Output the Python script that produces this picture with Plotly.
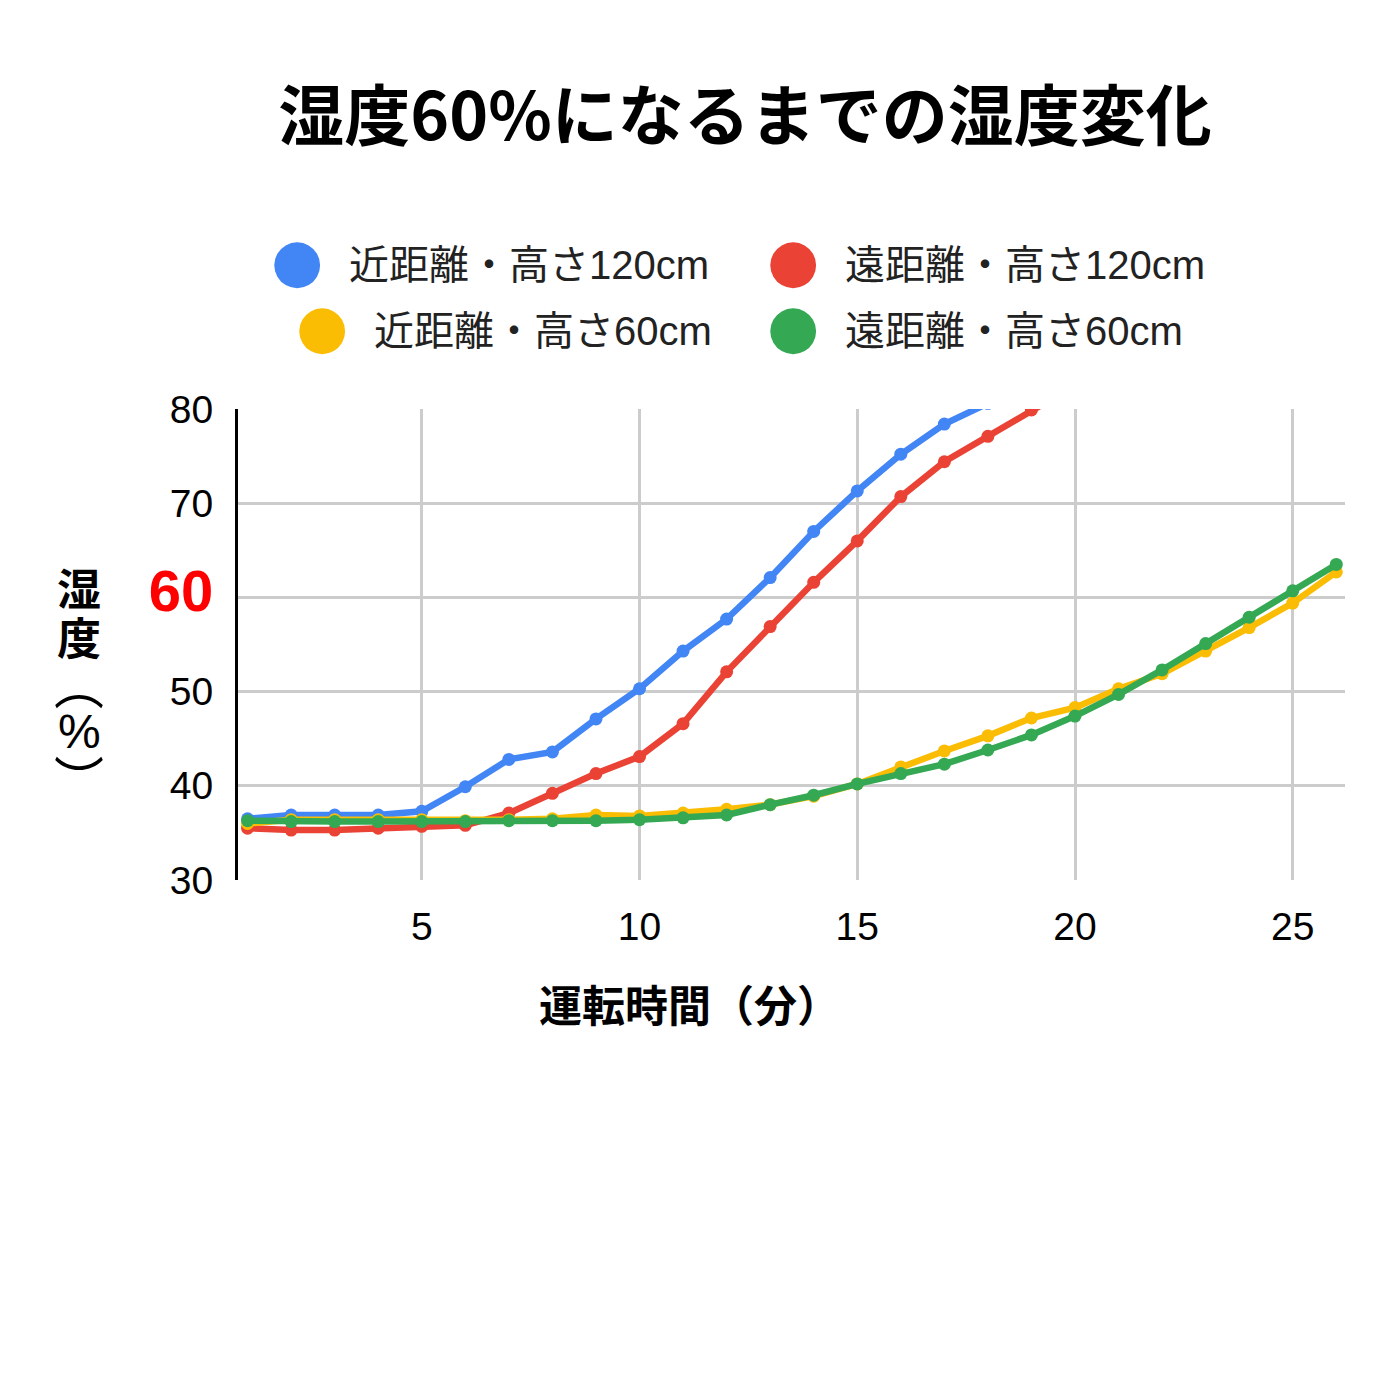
import plotly.graph_objects as go

# 運転時間（分）
minutes = list(range(1, 27))

near_120 = [36.5, 36.9, 36.9, 36.9, 37.3, 39.9, 42.8, 43.6, 47.1, 50.3, 54.3, 57.7,
            62.1, 67.0, 71.3, 75.2, 78.4, 80.6]
far_120 = [35.5, 35.3, 35.3, 35.5, 35.7, 35.8, 37.1, 39.2, 41.3, 43.1, 46.6, 52.1,
           56.9, 61.6, 66.0, 70.7, 74.4, 77.1, 79.9, 82.5]
near_60 = [36.0, 36.4, 36.4, 36.4, 36.4, 36.3, 36.4, 36.5, 36.9, 36.8, 37.1, 37.5,
           38.0, 38.9, 40.2, 42.0, 43.7, 45.3, 47.2, 48.3, 50.3, 51.9, 54.3, 56.8,
           59.4, 62.7]
far_60 = [36.3, 36.2, 36.2, 36.2, 36.2, 36.2, 36.3, 36.3, 36.3, 36.4, 36.6, 36.9,
          38.0, 39.0, 40.2, 41.3, 42.3, 43.8, 45.4, 47.4, 49.7, 52.3, 55.1, 57.9,
          60.7, 63.5]

names = ["近距離・高さ120cm", "遠距離・高さ120cm", "近距離・高さ60cm", "遠距離・高さ60cm"]
colors = ["#4285F4", "#EA4335", "#FBBC04", "#34A853"]
series = [near_120, far_120, near_60, far_60]

y_ticks = [30, 40, 50, 60, 70, 80]
x_ticks = [5, 10, 15, 20, 25]

FONT = "Liberation Sans, Arial, Noto Sans CJK JP"
CJK = "Noto Sans CJK JP, Liberation Sans"

# the page has an 8px body margin, so the layout is set up for that
L, R, T, B = 230, 63, 401, 528
PW, PH = 1400 - L - R, 1400 - T - B


def px(x):
    return (x - 8 - L) / PW


def py(y):
    return (1400 - B - (y - 8)) / PH


fig = go.Figure()
for name, color, vals in zip(names, colors, series):
    fig.add_trace(go.Scatter(
        x=minutes[:len(vals)], y=vals, name=name, mode="lines+markers",
        line=dict(color=color, width=6.5), marker=dict(color=color, size=13),
        showlegend=False,
    ))

# legend drawn as annotations (big round markers, 2 columns)
legend_pos = [(297, 265), (793, 265), (322, 331), (793, 331)]
for (lx, ly), name, color in zip(legend_pos, names, colors):
    fig.add_annotation(
        xref="paper", yref="paper", x=px(lx), y=py(ly - 5),
        xanchor="center", yanchor="middle", showarrow=False,
        text="●", font=dict(size=60, family="DejaVu Sans", color=color),
    )
    fig.add_annotation(
        xref="paper", yref="paper", x=px(lx + 50), y=py(ly),
        xanchor="left", yanchor="middle", showarrow=False,
        text=name, font=dict(size=40, family=FONT, color="#222222"),
    )

ticktext = [str(v) if v != 60 else "<b><span style='color:#FF0000;font-size:58px'>60</span></b>"
            for v in y_ticks]

# y axis title, one glyph per line (tight vertical spacing)
for ch, cy, size, bold in [("湿", 587, 44, True), ("度", 636, 44, True),
                           ("︵", 682, 50, False), ("%", 731, 48, False),
                           ("︶", 777, 50, False)]:
    fig.add_annotation(
        xref="paper", yref="paper", x=px(79), y=py(cy),
        xanchor="center", yanchor="middle", showarrow=False,
        text=f"<b>{ch}</b>" if bold else ch,
        font=dict(size=size, family=CJK if ch != "%" else FONT, color="#000000"),
    )

# x axis title
fig.add_annotation(
    xref="paper", yref="paper", x=px(689), y=py(1003),
    xanchor="center", yanchor="middle", showarrow=False,
    text="<b>運転時間（分）</b>",
    font=dict(size=43, family=CJK, color="#000000"),
)

fig.update_layout(
    width=1400, height=1400,
    paper_bgcolor="white", plot_bgcolor="white",
    margin=dict(l=L, r=R, t=T, b=B),
    title=dict(text="<b>湿度60%になるまでの湿度変化</b>", x=(745 - 8) / 1400, xanchor="center",
               y=1 - (117 - 8) / 1400, yanchor="middle",
               font=dict(size=66, family=CJK, color="#000000")),
    font=dict(family=FONT, size=39, color="#000000"),
)
fig.update_xaxes(
    range=[0.78, 26.2], tickvals=x_ticks, ticktext=[str(v) for v in x_ticks],
    showgrid=True, gridcolor="#CCCCCC", gridwidth=3, zeroline=False,
    ticks="", ticklabelstandoff=20, tickfont=dict(size=39, family=FONT),
)
fig.update_yaxes(
    range=[30, 80], tickvals=y_ticks, ticktext=ticktext,
    showgrid=True, gridcolor="#CCCCCC", gridwidth=3, zeroline=False,
    showline=True, linecolor="#000000", linewidth=3,
    ticks="", ticklabelstandoff=14, tickfont=dict(size=39, family=FONT),
)

fig.write_html("out.html")
